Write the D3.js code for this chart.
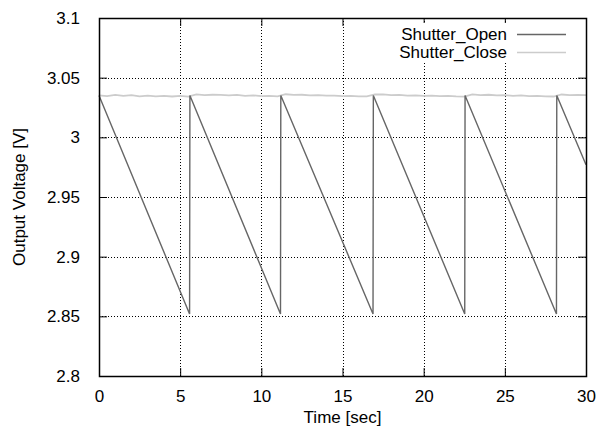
<!DOCTYPE html>
<html>
<head>
<meta charset="utf-8">
<script src="https://cdn.jsdelivr.net/npm/d3@7"></script>
<style>
  body { margin: 0; background: #fff; }
  text { font-family: "Liberation Sans", Arial, sans-serif; font-size: 17px; fill: #000; }
</style>
</head>
<body>
<div id="chart"></div>
<script>
// tick values
const xTicks = [0, 5, 10, 15, 20, 25, 30];
const yTicks = [2.8, 2.85, 2.9, 2.95, 3, 3.05, 3.1];

// Shutter_Open: sawtooth vertices (time, voltage)
const openT = [0, 5.58, 5.6, 11.18, 11.2, 16.88, 16.9, 22.53, 22.55, 28.18, 28.2, 30];
const openV = [3.035, 2.852, 3.035, 2.852, 3.035, 2.852, 3.035, 2.852, 3.035, 2.852, 3.035, 2.977];

// Shutter_Close: nearly flat, slightly noisy level
const closeT = [0, 0.5, 1, 1.5, 2, 2.5, 3, 3.5, 4, 4.5, 5, 5.5, 6, 6.5, 7, 7.5, 8, 8.5, 9, 9.5,
  10, 10.5, 11, 11.5, 12, 12.5, 13, 13.5, 14, 14.5, 15, 15.5, 16, 16.5, 17, 17.5, 18, 18.5, 19, 19.5,
  20, 20.5, 21, 21.5, 22, 22.5, 23, 23.5, 24, 24.5, 25, 25.5, 26, 26.5, 27, 27.5, 28, 28.5, 29, 29.5, 30];
const closeV = [3.0352, 3.0346, 3.0355, 3.0347, 3.0353, 3.0344, 3.0350, 3.0343, 3.0348, 3.0342, 3.0347, 3.0341,
  3.0360, 3.0354, 3.0357, 3.0355, 3.0351, 3.0355, 3.0348, 3.0352, 3.0345, 3.0348, 3.0343,
  3.0361, 3.0355, 3.0357, 3.0352, 3.0354, 3.0349, 3.0350, 3.0346, 3.0348, 3.0343, 3.0344,
  3.0359, 3.0360, 3.0353, 3.0356, 3.0350, 3.0352, 3.0348, 3.0350, 3.0345, 3.0347, 3.0343, 3.0341,
  3.0360, 3.0354, 3.0357, 3.0351, 3.0354, 3.0348, 3.0351, 3.0345, 3.0348, 3.0343, 3.0342,
  3.0359, 3.0354, 3.0356, 3.0353];

const seriesNames = ["Shutter_Open", "Shutter_Close"];
const seriesColors = ["#666666", "#cccccc"];

const margin = { top: 18, right: 14, bottom: 50, left: 99 };
const W = 600, H = 426;
const width = W - margin.left - margin.right;
const height = H - margin.top - margin.bottom;

const x = d3.scaleLinear().domain([0, 30]).range([0, width]);
const y = d3.scaleLinear().domain([2.8, 3.1]).range([height, 0]);

const svg = d3.select("#chart").append("svg")
  .attr("width", W).attr("height", H);
const g = svg.append("g").attr("transform", `translate(${margin.left},${margin.top})`);

// dotted grid
g.append("g").selectAll("line").data(xTicks.slice(1, -1)).join("line")
  .attr("x1", d => Math.round(x(d)) + 0.5).attr("x2", d => Math.round(x(d)) + 0.5)
  .attr("y1", 0).attr("y2", height)
  .attr("stroke", "#000").attr("stroke-dasharray", "1,2");
g.append("g").selectAll("line").data(yTicks.slice(1, -1)).join("line")
  .attr("y1", d => Math.round(y(d)) + 0.5).attr("y2", d => Math.round(y(d)) + 0.5)
  .attr("x1", 0).attr("x2", width)
  .attr("stroke", "#000").attr("stroke-dasharray", "1,2");

// lines
const line = d3.line().x(d => x(d[0])).y(d => y(d[1]));
const closeData = closeT.map((t, i) => [t, closeV[i]]);
const openData = openT.map((t, i) => [t, openV[i]]);

g.append("path").datum(closeData).attr("d", line)
  .attr("fill", "none").attr("stroke", seriesColors[1]).attr("stroke-width", 1.8);
g.append("path").datum(openData).attr("d", line)
  .attr("fill", "none").attr("stroke", seriesColors[0]).attr("stroke-width", 1.4);

// axes with inward ticks, mirrored
const tick = 8;
const axL = g.append("g").call(d3.axisLeft(y).tickValues(yTicks).tickSize(-tick).tickPadding(tick + 11).tickFormat(d3.format("")));
const axR = g.append("g").attr("transform", `translate(${width},0)`)
  .call(d3.axisRight(y).tickValues(yTicks).tickSize(-tick).tickFormat(""));
const axB = g.append("g").attr("transform", `translate(0,${height})`)
  .call(d3.axisBottom(x).tickValues(xTicks).tickSize(-tick).tickPadding(tick + 6));
const axT = g.append("g")
  .call(d3.axisTop(x).tickValues(xTicks).tickSize(-tick).tickFormat(""));
[axL, axR, axB, axT].forEach(a => {
  a.select(".domain").remove();
  a.selectAll("line").attr("stroke", "#000");
  a.selectAll("text").style("font-family", "Liberation Sans, Arial, sans-serif").style("font-size", "17px");
});

// legend (blanked box)
const leg = g.append("g").attr("transform", `translate(${507 - margin.left},${34 - margin.top})`);
leg.append("rect").attr("x", -112).attr("y", -11).attr("width", 180).attr("height", 38).attr("fill", "#fff");
seriesNames.forEach((name, i) => {
  leg.append("text").attr("x", 0).attr("y", i * 18 + 6).attr("text-anchor", "end").text(name);
  leg.append("line").attr("x1", 10).attr("x2", 59)
    .attr("y1", i * 18 + 0.5).attr("y2", i * 18 + 0.5)
    .attr("stroke", seriesColors[i]).attr("stroke-width", 1.5);
});

// border
g.append("rect").attr("x", 0.5).attr("y", 0.5).attr("width", width).attr("height", height)
  .attr("fill", "none").attr("stroke", "#000").attr("stroke-width", 1.5);

// axis titles
svg.append("text").attr("x", margin.left + width / 2).attr("y", 423)
  .attr("text-anchor", "middle").text("Time [sec]");
svg.append("text").attr("transform", `translate(25,${margin.top + height / 2}) rotate(-90)`)
  .attr("text-anchor", "middle").text("Output Voltage [V]");
</script>
</body>
</html>
